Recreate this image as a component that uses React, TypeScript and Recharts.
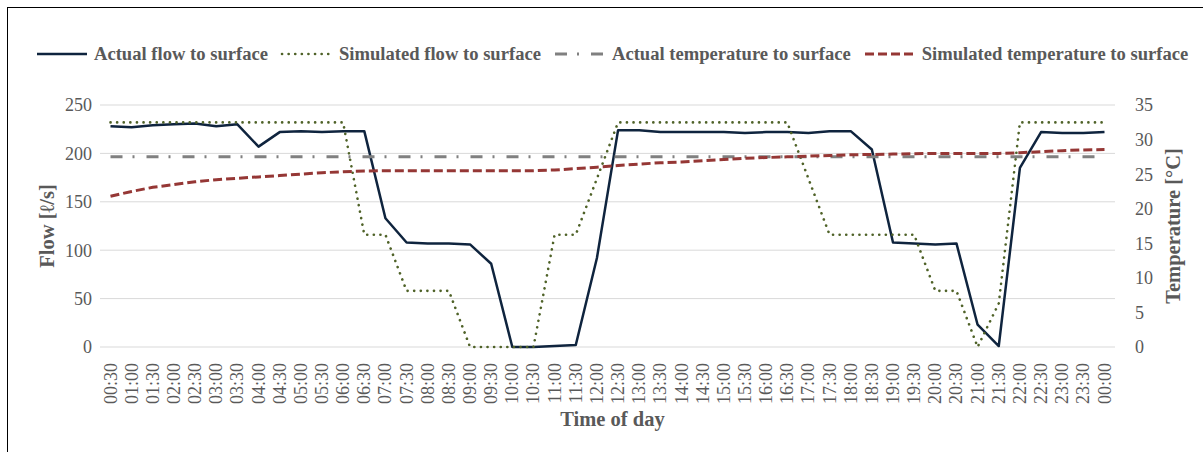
import React from 'react';
import { LineChart, Line, XAxis, YAxis, CartesianGrid, Label } from 'recharts';

const times = [
  '00:30', '01:00', '01:30', '02:00', '02:30', '03:00', '03:30', '04:00',
  '04:30', '05:00', '05:30', '06:00', '06:30', '07:00', '07:30', '08:00',
  '08:30', '09:00', '09:30', '10:00', '10:30', '11:00', '11:30', '12:00',
  '12:30', '13:00', '13:30', '14:00', '14:30', '15:00', '15:30', '16:00',
  '16:30', '17:00', '17:30', '18:00', '18:30', '19:00', '19:30', '20:00',
  '20:30', '21:00', '21:30', '22:00', '22:30', '23:00', '23:30', '00:00',
];

const actualFlow = [
  228, 227, 229, 230, 231, 228, 230, 207, 222, 223, 222, 223,
  223, 133, 108, 107, 107, 106, 86, 0, 0, 1, 2, 92,
  224, 224, 222, 222, 222, 222, 221, 222, 222, 221, 223, 223,
  204, 108, 107, 106, 107, 23, 1, 185, 222, 221, 221, 222,
];

const simulatedFlow = [
  232, 232, 232, 232, 232, 232, 232, 232, 232, 232, 232, 232,
  116, 116, 58, 58, 58, 0, 0, 0, 0, 116, 116, 174,
  232, 232, 232, 232, 232, 232, 232, 232, 232, 174, 116, 116,
  116, 116, 116, 58, 58, 0, 45, 232, 232, 232, 232, 232,
];

const actualTemp = [
  27.5, 27.5, 27.5, 27.5, 27.5, 27.5, 27.5, 27.5, 27.5, 27.5, 27.5, 27.5,
  27.5, 27.5, 27.5, 27.5, 27.5, 27.5, 27.5, 27.5, 27.5, 27.5, 27.5, 27.5,
  27.5, 27.5, 27.5, 27.5, 27.5, 27.5, 27.5, 27.5, 27.5, 27.5, 27.5, 27.5,
  27.5, 27.5, 27.5, 27.5, 27.5, 27.5, 27.5, 27.5, 27.5, 27.5, 27.5, 27.5,
];

const simulatedTemp = [
  21.8, 22.5, 23.1, 23.5, 23.9, 24.2, 24.4, 24.6, 24.8, 25.0, 25.2, 25.35,
  25.45, 25.5, 25.5, 25.5, 25.5, 25.5, 25.5, 25.5, 25.5, 25.6, 25.8, 26.0,
  26.25, 26.45, 26.65, 26.75, 26.95, 27.1, 27.3, 27.4, 27.5, 27.6, 27.7, 27.8,
  27.85, 27.9, 27.95, 28.0, 28.0, 28.0, 28.0, 28.1, 28.25, 28.4, 28.5, 28.55,
];

const flowTicks = [0, 50, 100, 150, 200, 250];
const tempTicks = [0, 5, 10, 15, 20, 25, 30, 35];

const data = times.map((t, i) => ({
  time: t,
  actualFlow: actualFlow[i],
  simulatedFlow: simulatedFlow[i],
  actualTemp: actualTemp[i],
  simulatedTemp: simulatedTemp[i],
}));

const FONT = '"Liberation Serif", "Times New Roman", serif';
const TEXT = '#595959';

const series = [
  { key: 'actualFlow', name: 'Actual flow to surface', color: '#0f243e', dash: undefined, width: 2.5, cap: 'butt' },
  { key: 'simulatedFlow', name: 'Simulated flow to surface', color: '#4f6228', dash: '0.1 6.5', width: 2.6, cap: 'round' },
  { key: 'actualTemp', name: 'Actual temperature to surface', color: '#808080', dash: '12 10 2 12', width: 3, cap: 'butt' },
  { key: 'simulatedTemp', name: 'Simulated temperature to surface', color: '#953735', dash: '9 4', width: 3, cap: 'butt' },
];

const XTick = (props: any) => {
  const { x, y, payload } = props;
  return (
    <text
      transform={`translate(${x},${y + 8}) rotate(-90)`}
      textAnchor="end"
      dominantBaseline="central"
      fontFamily={FONT}
      fontSize={18}
      fill={TEXT}
    >
      {payload.value}
    </text>
  );
};

const ChartLegend = () => (
  <div
    style={{
      position: 'absolute',
      left: 35,
      top: 43,
      display: 'flex',
      alignItems: 'center',
      fontFamily: FONT,
      fontWeight: 'bold',
      fontSize: 18.6,
      color: TEXT,
      whiteSpace: 'nowrap',
    }}
  >
    {series.map((s) => (
      <div key={s.key} style={{ display: 'flex', alignItems: 'center', marginRight: 12 }}>
        <svg width={54} height={12} style={{ marginRight: 5 }}>
          <line
            x1={2}
            y1={6}
            x2={52}
            y2={6}
            stroke={s.color}
            strokeWidth={s.width}
            strokeDasharray={s.dash}
            strokeLinecap={s.cap as any}
          />
        </svg>
        <span>{s.name}</span>
      </div>
    ))}
  </div>
);

const App: React.FC = () => {
  return (
    <div style={{ position: 'absolute', left: 0, top: 0, width: 1203, height: 452, background: '#fff' }}>
      <div
        style={{
          position: 'absolute',
          left: 7,
          top: 7,
          right: 0,
          bottom: 0,
          borderTop: '1px solid #000',
          borderLeft: '1px solid #000',
        }}
      />
      <ChartLegend />
      <LineChart
        width={1203}
        height={452}
        data={data}
        margin={{ top: 105, right: 0, bottom: 0, left: 0 }}
        style={{ position: 'absolute', left: 0, top: 0 }}
      >
        <CartesianGrid vertical={false} stroke="#d9d9d9" yAxisId="flow" />
        <XAxis
          dataKey="time"
          interval={0}
          height={105}
          axisLine={false}
          tickLine={false}
          tick={<XTick />}
          padding={{ left: 10.5, right: 10.5 }}
        >
          <Label
            content={(p: any) => {
              const vb = p.viewBox;
              return (
                <text x={vb.x + vb.width / 2 + 5} y={vb.y + 72} textAnchor="middle" dominantBaseline="central" fontFamily={FONT} fontWeight="bold" fontSize={20.5} fill={TEXT}>
                  Time of day
                </text>
              );
            }}
          />
        </XAxis>
        <YAxis
          yAxisId="flow"
          orientation="left"
          width={100}
          domain={[0, 250]}
          ticks={flowTicks}
          axisLine={false}
          tickLine={false}
          tickSize={0}
          tickMargin={8}
          tick={{ fontFamily: FONT, fontSize: 18, fill: TEXT }}
        >
          <Label
            content={(p: any) => {
              const vb = p.viewBox;
              const cy = vb.y + vb.height / 2;
              return (
                <text transform={`translate(${vb.x + 47},${cy}) rotate(-90)`} textAnchor="middle" dominantBaseline="central" fontFamily={FONT} fontWeight="bold" fontSize={20.5} fill={TEXT}>
                  Flow [ℓ/s]
                </text>
              );
            }}
          />
        </YAxis>
        <YAxis
          yAxisId="temp"
          orientation="right"
          width={88}
          domain={[0, 35]}
          ticks={tempTicks}
          axisLine={false}
          tickLine={false}
          tickSize={0}
          tickMargin={20}
          tick={{ fontFamily: FONT, fontSize: 18, fill: TEXT, textAnchor: 'start' }}
        >
          <Label
            content={(p: any) => {
              const vb = p.viewBox;
              const cy = vb.y + vb.height / 2;
              return (
                <text transform={`translate(${vb.x + 58},${cy}) rotate(-90)`} textAnchor="middle" dominantBaseline="central" fontFamily={FONT} fontWeight="bold" fontSize={20.5} fill={TEXT}>
                  Temperature [°C]
                </text>
              );
            }}
          />
        </YAxis>
        <Line yAxisId="flow" dataKey="actualFlow" name="Actual flow to surface" stroke="#0f243e" strokeWidth={2.5} dot={false} isAnimationActive={false} strokeLinejoin="round" />
        <Line yAxisId="flow" dataKey="simulatedFlow" name="Simulated flow to surface" stroke="#4f6228" strokeWidth={2.6} strokeDasharray="0.1 6.5" strokeLinecap="round" dot={false} isAnimationActive={false} />
        <Line yAxisId="temp" dataKey="actualTemp" name="Actual temperature to surface" stroke="#808080" strokeWidth={3} strokeDasharray="12 10 2 12" dot={false} isAnimationActive={false} />
        <Line yAxisId="temp" dataKey="simulatedTemp" name="Simulated temperature to surface" stroke="#953735" strokeWidth={3} strokeDasharray="9 4" dot={false} isAnimationActive={false} />
      </LineChart>
    </div>
  );
};

export default App;
